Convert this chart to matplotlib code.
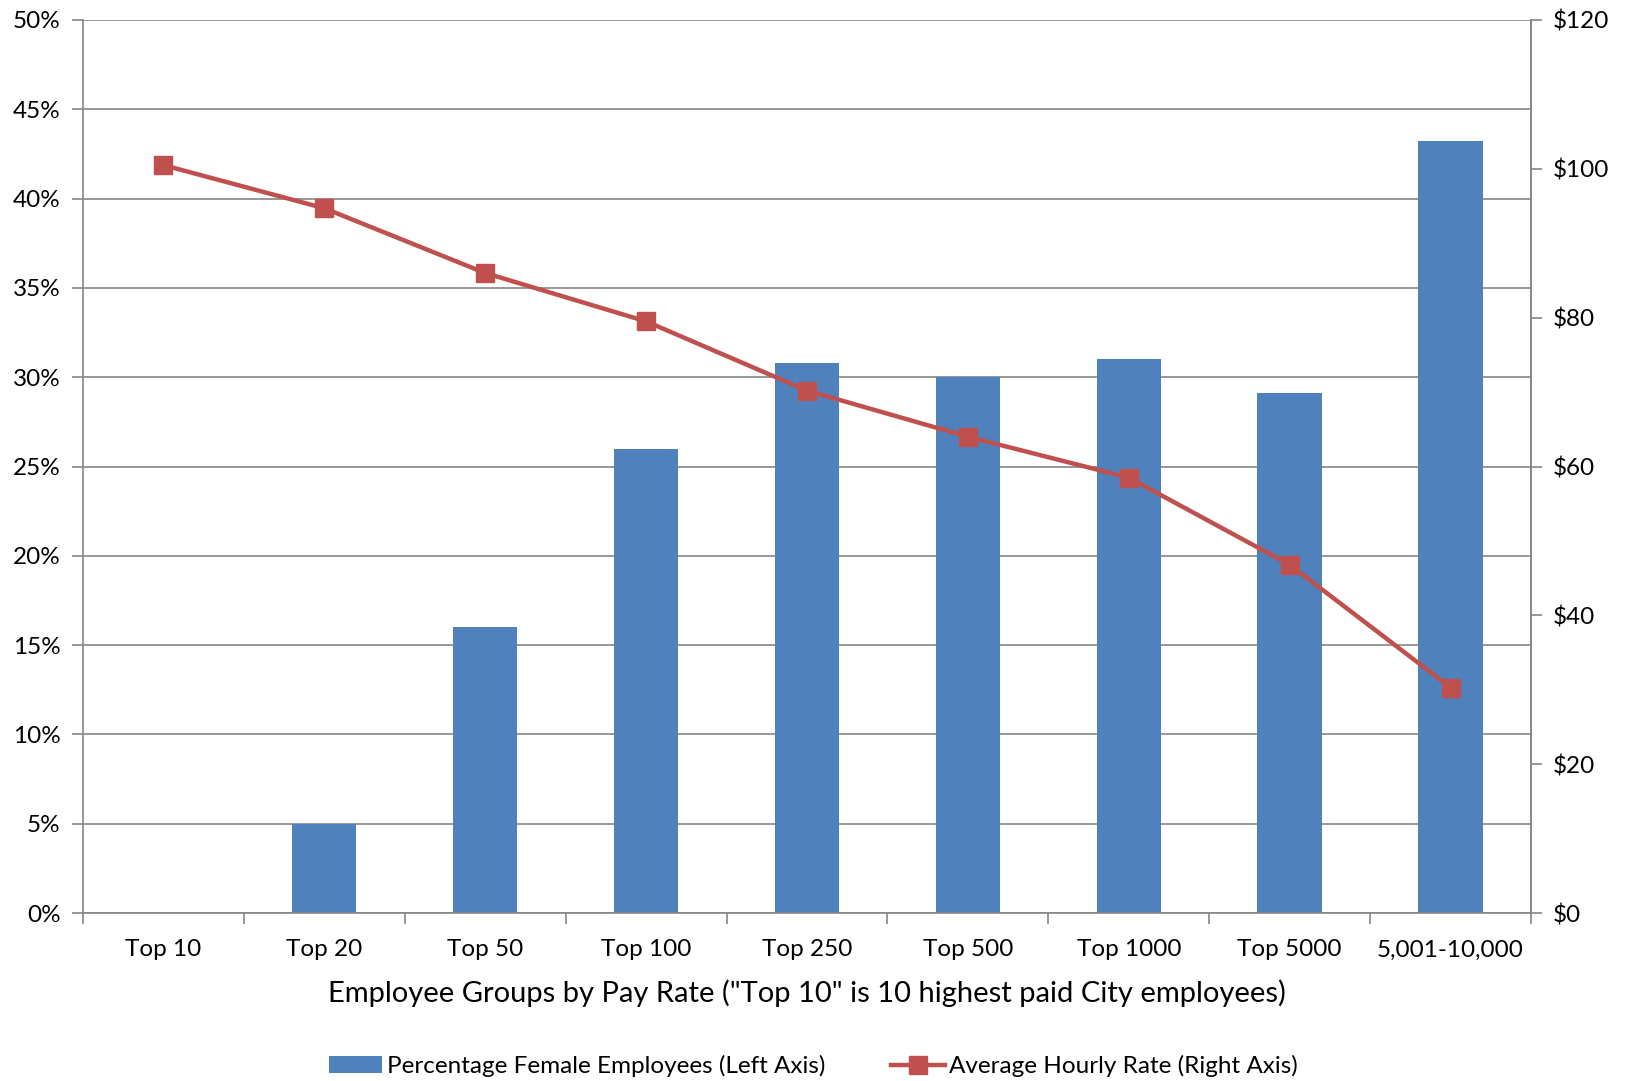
import matplotlib
matplotlib.use("Agg")
import matplotlib.pyplot as plt
from matplotlib.ticker import FuncFormatter, MultipleLocator, FixedLocator
import numpy as np

categories = ["Top 10", "Top 20", "Top 50", "Top 100", "Top 250", "Top 500",
              "Top 1000", "Top 5000", "5,001-10,000"]
pct_female = [0.0, 5.0, 16.0, 26.0, 30.8, 30.0, 31.0, 29.1, 43.2]
avg_rate = [100.5, 94.7, 86.0, 79.5, 70.2, 64.0, 58.5, 46.8, 30.3]

plt.rcParams['font.family'] = ['Lato', 'DejaVu Sans']

BAR = "#4F81BD"
LINE = "#C0504D"
GRID = "#868686"
FS = 17.5

fig = plt.figure(figsize=(16.27, 10.81), dpi=100)
ax = fig.add_axes([0.051, 0.1554, 0.890, 0.8261])
x = np.arange(len(categories))
ax.bar(x, pct_female, width=0.4, color=BAR, zorder=2,
       label="Percentage Female Employees (Left Axis)")
ax.set_xlim(-0.5, len(categories) - 0.5)
ax.set_ylim(0, 50)
ax.yaxis.set_major_locator(MultipleLocator(5))
ax.yaxis.set_major_formatter(FuncFormatter(lambda v, p: f"{v:.0f}%"))
ax.grid(axis='y', color=GRID, linewidth=1.2, zorder=0)
ax.set_axisbelow(True)
ax.set_xticks(x)
ax.set_xticklabels(categories, fontsize=FS)
ax.tick_params(axis='x', length=0, pad=19)
ax.xaxis.set_minor_locator(FixedLocator(np.arange(-0.5, len(categories), 1.0)))
ax.tick_params(axis='x', which='minor', length=8, width=1.2, color=GRID)
ax.tick_params(axis='y', length=8, width=1.2, color=GRID, labelsize=FS, pad=8)
for s in ['left', 'bottom', 'right']:
    ax.spines[s].set_color(GRID)
    ax.spines[s].set_linewidth(1.2)
ax.spines['top'].set_visible(False)
ax.set_xlabel('Employee Groups by Pay Rate ("Top 10" is 10 highest paid City employees)',
              fontsize=21, labelpad=14)

ax2 = ax.twinx()
ax2.plot(x, avg_rate, color=LINE, linewidth=3.2, marker='s', markersize=13,
         label="Average Hourly Rate (Right Axis)", zorder=3)
ax2.set_ylim(0, 120)
ax2.yaxis.set_major_locator(MultipleLocator(20))
ax2.yaxis.set_major_formatter(FuncFormatter(lambda v, p: f"${v:.0f}"))
ax2.tick_params(axis='y', length=8, width=1.2, color=GRID, labelsize=FS, pad=8)
for s in ['left', 'bottom', 'top']:
    ax2.spines[s].set_visible(False)
ax2.spines['right'].set_color(GRID)
ax2.spines['right'].set_linewidth(1.2)

h1, l1 = ax.get_legend_handles_labels()
h2, l2 = ax2.get_legend_handles_labels()
fig.legend(h1 + h2, l1 + l2, loc='center', bbox_to_anchor=(0.5, 0.0135), ncol=2,
           frameon=False, fontsize=FS, handlelength=2.2, handletextpad=0.2,
           columnspacing=2.7, borderpad=0)

fig.savefig("out.png", dpi=100)
